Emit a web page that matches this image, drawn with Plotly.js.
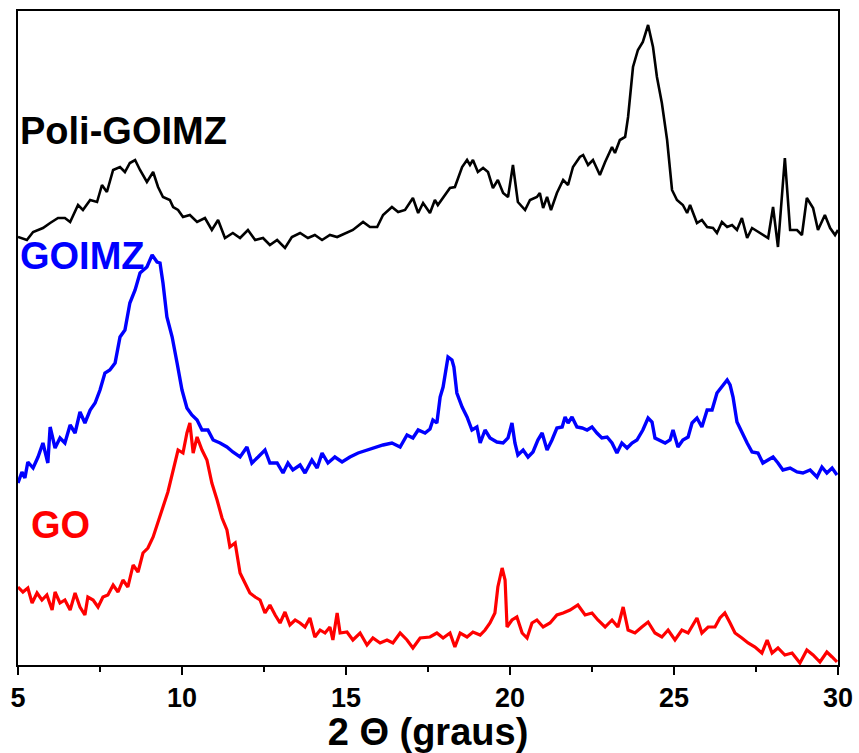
<!DOCTYPE html>
<html>
<head>
<meta charset="utf-8">
<script src="https://cdn.plot.ly/plotly-3.0.1.min.js"></script>
<style>html,body{margin:0;padding:0;background:#fff;}#chart{width:859px;height:753px;}</style>
</head>
<body>
<div id="chart"></div>
<script>
// 2θ (degrees) and offset intensities (a.u.)
var poliX = [5.00,5.27,5.46,5.76,5.98,6.22,6.43,6.59,6.83,6.98,7.20,7.41,7.56,7.71,7.90,8.11,8.26,8.41,8.57,8.72,8.93,9.12,9.27,9.42,9.63,9.73,9.88,10.03,10.24,10.46,10.70,10.91,11.10,11.31,11.55,11.77,12.01,12.23,12.47,12.68,12.90,13.14,13.35,13.60,13.84,14.05,14.27,14.51,14.73,15.03,15.21,15.52,15.73,15.95,16.13,16.40,16.59,16.80,17.04,17.20,17.35,17.56,17.71,17.80,18.02,18.17,18.32,18.54,18.69,18.78,18.87,19.02,19.18,19.33,19.48,19.63,19.79,19.94,20.09,20.24,20.46,20.61,20.82,20.91,21.01,21.13,21.25,21.43,21.62,21.77,21.92,22.13,22.23,22.38,22.53,22.74,22.90,23.11,23.20,23.35,23.51,23.60,23.75,23.90,24.05,24.21,24.36,24.48,24.63,24.79,24.94,25.09,25.27,25.40,25.49,25.70,25.85,26.01,26.19,26.31,26.46,26.62,26.77,26.92,27.07,27.23,27.38,27.56,27.71,27.87,28.02,28.17,28.38,28.54,28.75,28.90,29.05,29.24,29.39,29.60,29.76,29.91,30.00];
var poliY = [428,425,433,437,442,447,447,443,460,455,465,463,480,473,495,498,493,502,505,495,483,493,478,468,465,458,455,448,450,443,447,435,445,427,432,427,435,425,427,420,425,417,428,432,427,430,425,430,428,432,435,443,438,438,450,458,453,455,467,452,462,452,465,460,470,477,478,498,505,500,505,493,497,493,477,485,472,468,500,463,455,465,468,472,457,468,455,472,485,480,498,508,510,500,505,490,503,518,512,525,528,548,598,615,623,640,618,588,562,525,475,465,460,452,460,442,445,438,437,432,443,438,440,435,447,427,437,433,430,427,458,418,507,435,435,430,467,457,435,450,437,430,435];

var goimzX = [5.00,5.12,5.21,5.30,5.46,5.61,5.76,5.91,5.98,6.13,6.28,6.43,6.59,6.74,6.89,7.04,7.20,7.35,7.50,7.65,7.80,7.96,8.11,8.26,8.41,8.57,8.72,8.93,9.09,9.24,9.33,9.42,9.54,9.70,9.85,10.00,10.15,10.30,10.46,10.61,10.79,10.95,11.16,11.37,11.55,11.77,11.98,12.13,12.32,12.53,12.68,12.90,13.08,13.23,13.38,13.60,13.75,13.96,14.12,14.27,14.45,14.66,14.88,15.12,15.37,15.64,15.88,16.13,16.40,16.65,16.86,17.04,17.20,17.41,17.56,17.65,17.77,17.87,17.96,18.11,18.23,18.29,18.38,18.54,18.69,18.84,18.99,19.09,19.24,19.39,19.60,19.79,19.94,20.06,20.15,20.24,20.40,20.55,20.70,20.85,20.98,21.13,21.28,21.43,21.59,21.68,21.77,21.89,22.04,22.20,22.35,22.50,22.65,22.80,22.96,23.11,23.26,23.41,23.57,23.72,23.87,24.05,24.21,24.33,24.42,24.57,24.73,24.88,24.97,25.12,25.27,25.43,25.55,25.70,25.85,26.01,26.16,26.31,26.46,26.62,26.71,26.80,26.92,27.07,27.23,27.38,27.56,27.71,27.87,28.02,28.17,28.32,28.54,28.75,28.93,29.15,29.36,29.51,29.66,29.82,29.97];
var goimzY = [182,193,187,203,197,208,222,202,238,217,227,222,240,232,253,242,255,262,275,292,295,302,328,335,362,375,392,398,410,403,402,382,348,328,302,275,257,250,245,235,235,225,222,218,213,208,218,202,208,215,202,202,192,202,195,200,192,205,197,212,202,208,203,208,212,215,217,220,222,218,230,227,235,232,236,245,242,268,278,308,305,298,272,258,248,235,238,222,235,227,223,222,227,242,222,210,215,208,213,225,232,215,225,237,238,248,242,248,238,237,235,238,232,227,228,222,212,222,217,222,225,235,247,243,227,225,222,225,235,218,225,228,242,247,238,255,255,272,278,285,280,268,243,232,222,213,212,202,205,208,202,195,197,193,192,195,188,198,192,197,190];

var goX = [5.00,5.15,5.30,5.43,5.58,5.73,5.88,6.04,6.13,6.28,6.43,6.59,6.74,6.89,7.04,7.13,7.29,7.44,7.59,7.74,7.90,8.05,8.20,8.35,8.51,8.66,8.81,8.96,9.12,9.27,9.42,9.57,9.73,9.88,10.03,10.15,10.24,10.34,10.46,10.61,10.76,10.91,11.07,11.22,11.37,11.46,11.62,11.77,11.92,12.07,12.23,12.38,12.53,12.68,12.84,12.99,13.14,13.29,13.45,13.60,13.75,13.90,14.05,14.21,14.36,14.51,14.60,14.73,14.82,15.03,15.21,15.43,15.64,15.82,16.04,16.25,16.43,16.65,16.86,17.04,17.26,17.56,17.77,17.96,18.17,18.32,18.48,18.69,18.87,19.09,19.24,19.39,19.54,19.63,19.76,19.85,19.91,20.06,20.21,20.37,20.52,20.67,20.82,21.01,21.22,21.43,21.62,21.83,22.07,22.29,22.50,22.68,22.90,23.11,23.29,23.45,23.60,23.81,24.02,24.21,24.42,24.63,24.82,25.03,25.24,25.43,25.70,25.85,26.04,26.25,26.40,26.55,26.71,26.86,27.07,27.26,27.47,27.68,27.84,27.99,28.17,28.38,28.60,28.84,29.05,29.24,29.45,29.66,29.82,29.97];
var goY = [78,73,77,62,72,65,70,55,73,62,65,55,72,58,50,68,65,58,68,70,80,73,85,78,100,93,112,117,128,142,158,173,195,215,212,232,242,212,228,215,205,182,165,147,135,118,122,92,82,72,68,65,52,60,50,42,53,40,45,42,38,47,28,35,32,38,25,52,32,33,25,32,20,27,22,25,22,32,25,17,27,28,32,27,32,18,32,28,33,30,35,42,52,78,97,85,38,45,48,32,27,42,45,38,42,50,52,55,60,50,52,45,38,45,38,58,35,32,38,43,32,28,35,25,35,32,47,32,38,38,47,52,42,32,27,22,18,12,25,12,17,10,12,2,15,10,3,13,8,3];

var tickVals = [5,10,15,20,25,30];
var tickText = ['5','10','15','20','25','30'];
var seriesNames = ['Poli-GOIMZ','GOIMZ','GO'];
var seriesColors = ['#000000','#0000ff','#ff0000'];
var xTitle = '2 \u0398 (graus)';

var FONT = 'Liberation Sans, Arial, Helvetica, sans-serif';

var traces = [
  {x: poliX, y: poliY, name: seriesNames[0], mode: 'lines', line: {color: seriesColors[0], width: 2.6}},
  {x: goimzX, y: goimzY, name: seriesNames[1], mode: 'lines', line: {color: seriesColors[1], width: 3.4}},
  {x: goX, y: goY, name: seriesNames[2], mode: 'lines', line: {color: seriesColors[2], width: 3.2}}
];

var layout = {
  width: 859, height: 753,
  margin: {l: 18, r: 21, t: 11, b: 88},
  paper_bgcolor: '#fff', plot_bgcolor: '#fff',
  showlegend: false,
  xaxis: {
    range: [5, 30], tickvals: tickVals, ticktext: tickText,
    ticks: 'outside', ticklen: 8, tickwidth: 2, tickcolor: '#000',
    minor: {tick0: 5, dtick: 2.5, ticks: 'outside', ticklen: 5, tickwidth: 2, tickcolor: '#000', showgrid: false},
    showline: true, linewidth: 2, linecolor: '#000', mirror: true,
    showgrid: false, zeroline: false,
    tickfont: {family: FONT, size: 27, color: '#000', weight: 'bold'},
    title: {text: xTitle, font: {family: FONT, size: 38, color: '#000', weight: 'bold'}, standoff: 9}
  },
  xaxis2: {
    overlaying: 'x', side: 'top', range: [5, 30], tick0: 5, dtick: 2.5,
    ticks: 'inside', ticklen: 3, tickwidth: 1.5, tickcolor: '#000',
    showticklabels: false, showline: false, showgrid: false, zeroline: false
  },
  yaxis: {
    range: [0, 654], showticklabels: false, ticks: '',
    showline: true, linewidth: 2, linecolor: '#000', mirror: true,
    showgrid: false, zeroline: false
  },
  annotations: [
    {x: 0, y: 534, xref: 'paper', yref: 'y', xanchor: 'left', yanchor: 'middle', showarrow: false,
     text: seriesNames[0], font: {family: FONT, size: 38, color: seriesColors[0], weight: 'bold'}},
    {x: 0, y: 409, xref: 'paper', yref: 'y', xanchor: 'left', yanchor: 'middle', showarrow: false,
     text: seriesNames[1], font: {family: FONT, size: 38, color: seriesColors[1], weight: 'bold'}},
    {x: 5.35, y: 140, xref: 'x', yref: 'y', xanchor: 'left', yanchor: 'middle', showarrow: false,
     text: seriesNames[2], font: {family: FONT, size: 38, color: seriesColors[2], weight: 'bold'}}
  ]
};

Plotly.newPlot('chart', traces, layout, {displayModeBar: false, staticPlot: true});
</script>
</body>
</html>
